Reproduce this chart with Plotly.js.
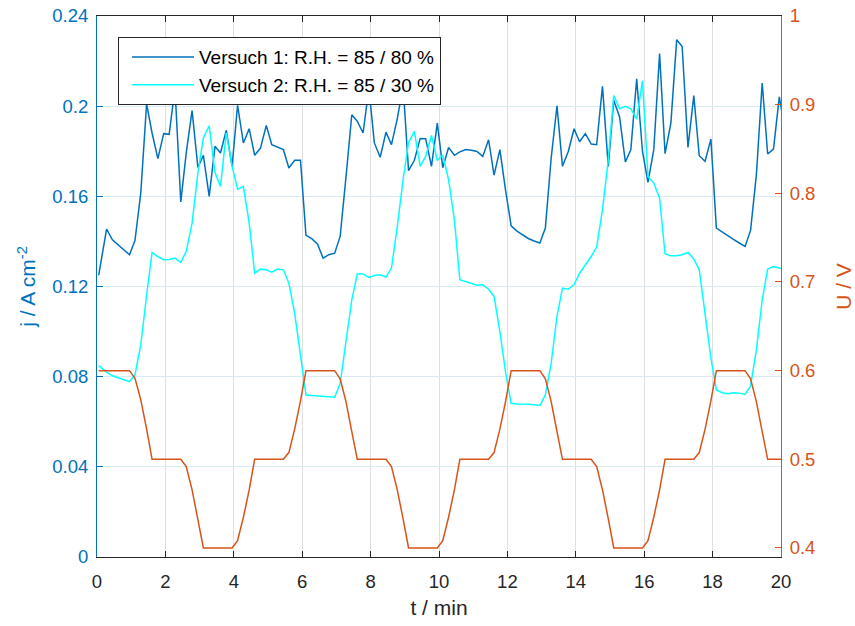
<!DOCTYPE html>
<html>
<head>
<meta charset="utf-8">
<script src="https://cdn.plot.ly/plotly-3.0.1.min.js"></script>
<style>
  html, body { margin: 0; padding: 0; background: #ffffff; }
  #chart { width: 855px; height: 626px; }
</style>
</head>
<body>
<div id="chart"></div>
<script>
// Sampling times in minutes (one sample every 10 s)
const timeMin = [
  0.05, 0.28, 0.45, 0.61, 0.78, 0.95,
  1.11, 1.28, 1.45, 1.61, 1.78, 1.95,
  2.11, 2.28, 2.45, 2.61, 2.78, 2.95,
  3.11, 3.28, 3.45, 3.61, 3.78, 3.95,
  4.11, 4.28, 4.45, 4.61, 4.78, 4.95,
  5.11, 5.28, 5.45, 5.61, 5.78, 5.95,
  6.11, 6.28, 6.45, 6.61, 6.78, 6.95,
  7.11, 7.28, 7.45, 7.61, 7.78, 7.95,
  8.11, 8.28, 8.45, 8.61, 8.78, 8.95,
  9.11, 9.28, 9.45, 9.61, 9.78, 9.95,
  10.11, 10.28, 10.45, 10.61, 10.78, 10.95,
  11.11, 11.28, 11.45, 11.61, 11.78, 11.95,
  12.11, 12.28, 12.45, 12.61, 12.78, 12.95,
  13.11, 13.28, 13.45, 13.61, 13.78, 13.95,
  14.11, 14.28, 14.45, 14.61, 14.78, 14.95,
  15.11, 15.28, 15.45, 15.61, 15.78, 15.95,
  16.11, 16.28, 16.45, 16.61, 16.78, 16.95,
  17.11, 17.28, 17.45, 17.61, 17.78, 17.95,
  18.11, 18.28, 18.45, 18.61, 18.78, 18.95,
  19.11, 19.28, 19.45, 19.61, 19.78, 19.95,
  20.11
];

// Current density j / A cm^-2, run 1 (R.H. 85 / 80 %)
const jRun1 = [
  0.125, 0.1455, 0.1407, 0.1385, 0.1363, 0.1341,
  0.1404, 0.1615, 0.201, 0.1881, 0.1767, 0.1878,
  0.1875, 0.208, 0.1575, 0.1794, 0.198, 0.1728,
  0.1782, 0.16, 0.1822, 0.1792, 0.1893, 0.1733,
  0.2004, 0.1837, 0.19, 0.1782, 0.1814, 0.1915,
  0.1829, 0.1819, 0.1807, 0.1726, 0.176, 0.176,
  0.1427, 0.1412, 0.1388, 0.1326, 0.1341, 0.1348,
  0.1422, 0.1685, 0.1962, 0.1933, 0.1881, 0.208,
  0.1837, 0.1773, 0.1885, 0.1829, 0.1944, 0.209,
  0.1714, 0.176, 0.1857, 0.1856, 0.1733, 0.1925,
  0.1727, 0.1817, 0.1782, 0.1797, 0.1808, 0.1804,
  0.1799, 0.1777, 0.1851, 0.1694, 0.1807, 0.1623,
  0.1469, 0.1446, 0.1428, 0.1413, 0.1402, 0.1393,
  0.1459, 0.177, 0.2002, 0.1733, 0.1799, 0.19,
  0.1842, 0.1878, 0.1832, 0.1829, 0.2088, 0.1733,
  0.2026, 0.1952, 0.1752, 0.1807, 0.2121, 0.1799,
  0.1662, 0.1807, 0.2233, 0.1789, 0.1925, 0.2295,
  0.2265, 0.1817, 0.2047, 0.178, 0.1755, 0.1854,
  0.1459, 0.1441, 0.1425, 0.1409, 0.1393, 0.1378,
  0.1449, 0.1696, 0.2103, 0.1788, 0.181, 0.2041,
  0.19
];

// Current density j / A cm^-2, run 2 (R.H. 85 / 30 %)
const jRun2 = [
  0.0849, 0.082, 0.0804, 0.0795, 0.0787, 0.0778,
  0.0808, 0.0941, 0.116, 0.1351, 0.1333, 0.1319,
  0.132, 0.1326, 0.1307, 0.1356, 0.1481, 0.1703,
  0.1859, 0.1913, 0.1706, 0.1644, 0.1881, 0.1733,
  0.1632, 0.1644, 0.1481, 0.1259, 0.1277, 0.1274,
  0.1264, 0.1277, 0.1274, 0.1215, 0.1082, 0.0889,
  0.0719, 0.0717, 0.0715, 0.0712, 0.0711, 0.0709,
  0.077, 0.0963, 0.1141, 0.1256, 0.1256, 0.124,
  0.1249, 0.1252, 0.1242, 0.1282, 0.1466, 0.1674,
  0.1839, 0.1888, 0.1733, 0.1777, 0.187, 0.1759,
  0.1783, 0.1674, 0.1496, 0.123, 0.1221, 0.1211,
  0.1206, 0.1208, 0.1188, 0.1156, 0.1, 0.0816,
  0.0682, 0.0679, 0.0679, 0.0678, 0.0675, 0.0672,
  0.0719, 0.086, 0.1067, 0.1193, 0.1188, 0.1209,
  0.1259, 0.1296, 0.1333, 0.1375, 0.154, 0.1763,
  0.2047, 0.1988, 0.1999, 0.1988, 0.1943, 0.2113,
  0.1688, 0.1659, 0.1592, 0.1345, 0.1336, 0.1336,
  0.1341, 0.1351, 0.1322, 0.1274, 0.1082, 0.0882,
  0.0741, 0.0729, 0.0724, 0.0729, 0.0727, 0.0721,
  0.0759, 0.0919, 0.114, 0.1277, 0.1289, 0.1282,
  0.128
];

// Cell voltage U / V (load profile)
const voltage = [
  0.6, 0.6, 0.6, 0.6, 0.6, 0.6,
  0.5915, 0.567, 0.5343, 0.5, 0.5, 0.5,
  0.5, 0.5, 0.5, 0.4918, 0.4655, 0.432,
  0.4, 0.4, 0.4, 0.4, 0.4, 0.4,
  0.4082, 0.4346, 0.4655, 0.5, 0.5, 0.5,
  0.5, 0.5, 0.5, 0.5076, 0.534, 0.5659,
  0.6, 0.6, 0.6, 0.6, 0.6, 0.6,
  0.5907, 0.565, 0.5313, 0.5, 0.5, 0.5,
  0.5, 0.5, 0.5, 0.4918, 0.4655, 0.4327,
  0.4, 0.4, 0.4, 0.4, 0.4, 0.4,
  0.4082, 0.4346, 0.4655, 0.5, 0.5, 0.5,
  0.5, 0.5, 0.5, 0.5076, 0.534, 0.5659,
  0.6, 0.6, 0.6, 0.6, 0.6, 0.6,
  0.5907, 0.565, 0.5313, 0.5, 0.5, 0.5,
  0.5, 0.5, 0.5, 0.4918, 0.4655, 0.4327,
  0.4, 0.4, 0.4, 0.4, 0.4, 0.4,
  0.4082, 0.4346, 0.4655, 0.5, 0.5, 0.5,
  0.5, 0.5, 0.5, 0.5076, 0.534, 0.5659,
  0.6, 0.6, 0.6, 0.6, 0.6, 0.6,
  0.5907, 0.565, 0.5313, 0.5, 0.5, 0.5,
  0.5
];

const seriesNames = ['Versuch 1: R.H. = 85 / 80 %', 'Versuch 2: R.H. = 85 / 30 %'];

const xTicks = [0, 2, 4, 6, 8, 10, 12, 14, 16, 18, 20];
const jTicks = [0, 0.04, 0.08, 0.12, 0.16, 0.2, 0.24];
const jTickText = ['0', '0.04', '0.08', '0.12', '0.16', '0.2', '0.24'];
const uTicks = [0.4, 0.5, 0.6, 0.7, 0.8, 0.9, 1];
const uTickText = ['0.4', '0.5', '0.6', '0.7', '0.8', '0.9', '1'];

const BLUE = '#0072BD';
const CYAN = '#00FFFF';
const ORANGE = '#D95319';
const DARK = '#262626';
const FONT = 'Liberation Sans, Arial, Helvetica, sans-serif';

const traces = [
  { x: timeMin, y: jRun1, name: seriesNames[0], type: 'scatter', mode: 'lines',
    line: { color: BLUE, width: 1.5 }, yaxis: 'y' },
  { x: timeMin, y: jRun2, name: seriesNames[1], type: 'scatter', mode: 'lines',
    line: { color: CYAN, width: 1.5 }, yaxis: 'y' },
  { x: timeMin, y: voltage, name: 'U', type: 'scatter', mode: 'lines',
    line: { color: ORANGE, width: 1.5 }, yaxis: 'y2', showlegend: false }
];

const layout = {
  width: 855,
  height: 626,
  margin: { l: 97, r: 74, t: 16, b: 69 },
  paper_bgcolor: '#ffffff',
  plot_bgcolor: '#ffffff',
  font: { family: FONT, size: 18.5, color: DARK },
  showlegend: true,
  legend: {
    x: 0.0307, y: 0.961, xanchor: 'left', yanchor: 'top',
    bgcolor: '#ffffff', bordercolor: DARK, borderwidth: 1,
    font: { family: FONT, size: 19, color: '#000000' },
    itemwidth: 62, indentation: 8, tracegroupgap: 0
  },
  xaxis: {
    range: [0, 20], tickvals: xTicks, ticktext: xTicks.map(String),
    ticks: 'inside', ticklen: 6, tickcolor: DARK, tickwidth: 1,
    showline: true, linecolor: DARK, linewidth: 1, mirror: 'ticks',
    showgrid: true, gridcolor: '#dfdfdf', gridwidth: 1, zeroline: false,
    tickfont: { family: FONT, size: 18.5, color: DARK },
    ticklabelstandoff: 8,
    title: { text: 't / min', font: { family: FONT, size: 21, color: DARK }, standoff: 9 }
  },
  yaxis: {
    range: [0, 0.24], tickvals: jTicks, ticktext: jTickText,
    ticks: 'inside', ticklen: 6, tickcolor: BLUE, tickwidth: 1,
    showline: true, linecolor: BLUE, linewidth: 1,
    showgrid: true, gridcolor: '#d9eaf5', gridwidth: 1, zeroline: false,
    tickfont: { family: FONT, size: 18.5, color: BLUE },
    ticklabelstandoff: 4,
    title: { text: 'j / A cm<sup>-2</sup>', font: { family: FONT, size: 21, color: BLUE }, standoff: 10 }
  },
  yaxis2: {
    overlaying: 'y', side: 'right',
    range: [0.3898, 1.0], tickvals: uTicks, ticktext: uTickText,
    ticks: 'inside', ticklen: 6, tickcolor: ORANGE, tickwidth: 1,
    showline: true, linecolor: ORANGE, linewidth: 1,
    showgrid: false, zeroline: false,
    tickfont: { family: FONT, size: 18.5, color: ORANGE },
    ticklabelstandoff: 4,
    title: { text: 'U / V', font: { family: FONT, size: 21, color: ORANGE }, standoff: 24 }
  }
};

Plotly.newPlot('chart', traces, layout, { displayModeBar: false, staticPlot: true });
</script>
</body>
</html>
